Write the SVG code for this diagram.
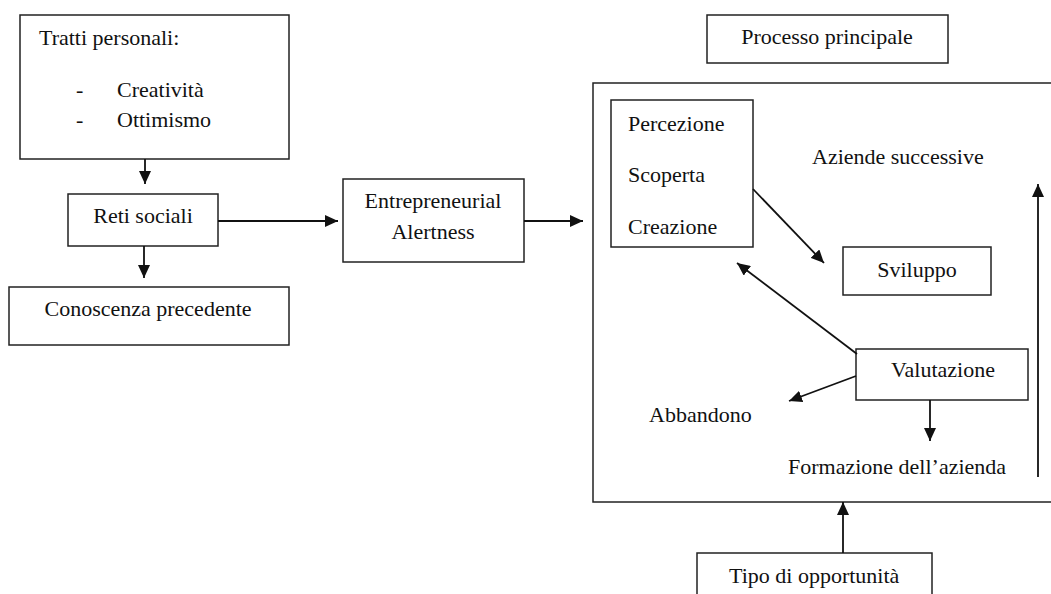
<svg xmlns="http://www.w3.org/2000/svg" width="1051" height="594" viewBox="0 0 1051 594">
  <style>
    .box { fill: #ffffff; stroke: #222222; stroke-width: 1.5; }
    .lbl { font-family: "Liberation Serif", "Times New Roman", serif; font-size: 22px; fill: #111111; }
    .mid { text-anchor: middle; }
    .conn { stroke: #111111; stroke-width: 1.8; fill: none; marker-end: url(#arrow); }
  </style>
  <defs>
    <marker id="arrow" markerUnits="userSpaceOnUse" markerWidth="13" markerHeight="12" refX="13" refY="6" orient="auto">
      <path d="M0,0 L13,6 L0,12 z" fill="#111111"/>
    </marker>
  </defs>

  <rect width="1051" height="594" fill="#ffffff"/>

  <!-- main process frame -->
  <g id="processo-frame">
    <rect class="box" x="593" y="83" width="470" height="419"/>
  </g>

  <g id="tratti">
    <rect class="box" x="20" y="15" width="269" height="144"/>
    <text class="lbl" x="39" y="45">Tratti personali:</text>
    <text class="lbl" x="76" y="97">-</text>
    <text class="lbl" x="117" y="97">Creatività</text>
    <text class="lbl" x="76" y="127">-</text>
    <text class="lbl" x="117" y="127">Ottimismo</text>
  </g>

  <g id="reti">
    <rect class="box" x="68" y="194" width="150" height="52"/>
    <text class="lbl mid" x="143" y="223">Reti sociali</text>
  </g>

  <g id="conoscenza">
    <rect class="box" x="9" y="287" width="280" height="58"/>
    <text class="lbl mid" x="148" y="316">Conoscenza precedente</text>
  </g>

  <g id="alertness">
    <rect class="box" x="343" y="179" width="181" height="83"/>
    <text class="lbl mid" x="433" y="208">Entrepreneurial</text>
    <text class="lbl mid" x="433" y="239">Alertness</text>
  </g>

  <g id="processo-principale">
    <rect class="box" x="707" y="15" width="241" height="48"/>
    <text class="lbl mid" x="827" y="44">Processo principale</text>
  </g>

  <g id="percezione">
    <rect class="box" x="611" y="100" width="142" height="147"/>
    <text class="lbl" x="628" y="131">Percezione</text>
    <text class="lbl" x="628" y="182">Scoperta</text>
    <text class="lbl" x="628" y="234">Creazione</text>
  </g>

  <g id="aziende-successive">
    <text class="lbl" x="812" y="164">Aziende successive</text>
  </g>

  <g id="sviluppo">
    <rect class="box" x="843" y="247" width="148" height="48"/>
    <text class="lbl mid" x="917" y="277">Sviluppo</text>
  </g>

  <g id="valutazione">
    <rect class="box" x="856" y="349" width="172" height="51"/>
    <text class="lbl mid" x="943" y="377">Valutazione</text>
  </g>

  <g id="abbandono">
    <text class="lbl" x="649" y="422">Abbandono</text>
  </g>

  <g id="formazione">
    <text class="lbl" x="788" y="474">Formazione dell’azienda</text>
  </g>

  <g id="tipo">
    <rect class="box" x="697" y="553" width="235" height="60"/>
    <text class="lbl" x="729" y="583">Tipo di opportunità</text>
  </g>

  <g id="connectors">
    <line class="conn" x1="145" y1="159" x2="145" y2="184"/>
    <line class="conn" x1="144" y1="246" x2="144" y2="278"/>
    <line class="conn" x1="218" y1="221" x2="338" y2="221"/>
    <line class="conn" x1="524" y1="221" x2="583" y2="221"/>
    <line class="conn" x1="753" y1="189" x2="824" y2="263"/>
    <line class="conn" x1="857" y1="354" x2="737" y2="263"/>
    <line class="conn" x1="856" y1="376" x2="789" y2="401"/>
    <line class="conn" x1="930" y1="400" x2="930" y2="441"/>
    <line class="conn" x1="1038" y1="477" x2="1038" y2="184"/>
    <line class="conn" x1="843" y1="553" x2="843" y2="502"/>
  </g>
</svg>
